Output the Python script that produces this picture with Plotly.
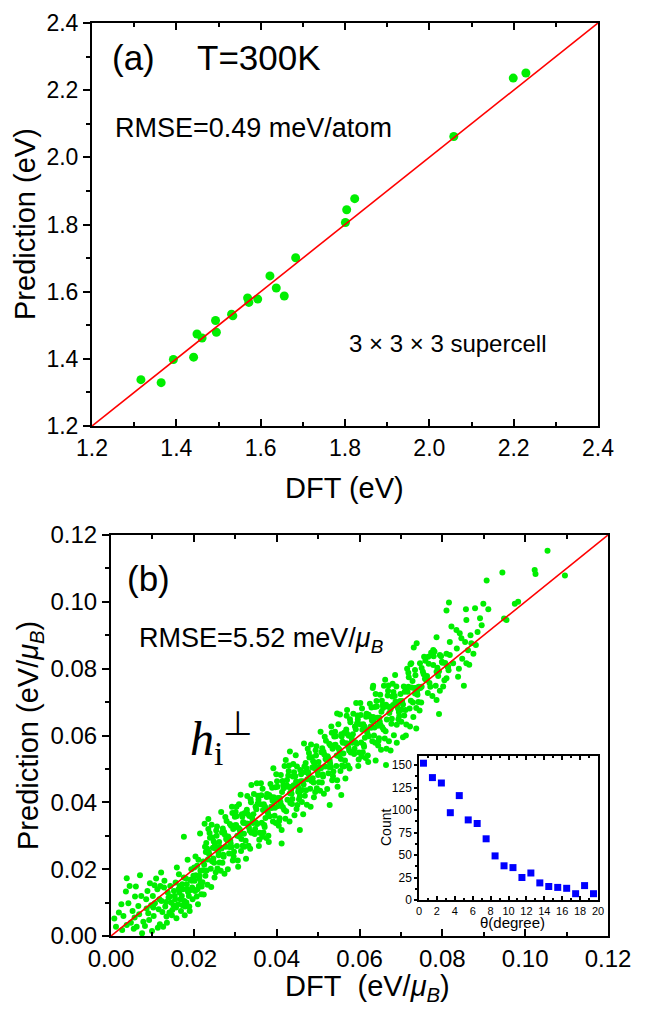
import plotly.graph_objects as go

# ── Data ──
# (a) T=300K, 3x3x3 supercell
a_dft = [1.316, 1.364, 1.393, 1.441, 1.449, 1.461, 1.493, 1.495, 1.531, 1.534,
         1.569, 1.572, 1.593, 1.622, 1.637, 1.656, 1.683, 1.801, 1.804, 1.823,
         2.058, 2.199, 2.229]
a_pred = [1.338, 1.329, 1.398, 1.405, 1.474, 1.462, 1.514, 1.479, 1.533, 1.528,
          1.581, 1.568, 1.578, 1.647, 1.611, 1.587, 1.701, 1.806, 1.844, 1.877,
          2.062, 2.236, 2.251]
a_range = [1.2, 2.4]

# (b) h_i^perp, (DFT, prediction) pairs in units of 1e-4 eV/muB
b_pairs = [
    (19, 70), (12, 28), (8, 52),
    (38, 173), (36, 133), (38, 33), (25, 95), (30, 60), (27, 18),
    (58, 118), (45, 150), (52, 75), (48, 40), (55, 22), (42, 98), (57, 55),
    (60, 148), (70, 182), (62, 28), (78, 43), (66, 90), (73, 120), (68, 65), (75, 8),
    (90, 68), (94, 158), (85, 110), (82, 30), (97, 92), (88, 135), (92, 48), (99, 15), (86, 82),
    (106, 98), (112, 140), (103, 60), (118, 35), (109, 172), (115, 80), (101, 120), (117, 110),
    (113, 25), (105, 152), (102, 85), (119, 150),
    (126, 28), (134, 58), (122, 105), (137, 130), (129, 165), (131, 88), (124, 72), (139, 115),
    (128, 145), (135, 40), (121, 190), (133, 102),
    (158, 53), (145, 100), (152, 135), (148, 78), (156, 160), (142, 118), (151, 92), (159, 205),
    (147, 62), (154, 120), (143, 150), (157, 85), (141, 70), (155, 110),
    (179, 88), (165, 130), (172, 155), (168, 110), (176, 175), (162, 95), (174, 140), (178, 62),
    (164, 185), (171, 120), (169, 75), (177, 105), (166, 150), (176, 297), (163, 140), (173, 92),
    (185, 228), (192, 168), (188, 120), (196, 145), (182, 100), (199, 180), (190, 75), (186, 132),
    (194, 200), (183, 155), (197, 110), (189, 88), (193, 138), (181, 172), (184, 140), (195, 165),
    (215, 307), (205, 182), (212, 150), (208, 210), (218, 125), (202, 165), (216, 195), (210, 95),
    (204, 238), (213, 172), (219, 148), (207, 118), (211, 228), (217, 160), (203, 135), (201, 205),
    (209, 140), (214, 180),
    (223, 223), (231, 196), (227, 267), (236, 251), (221, 161), (238, 308), (229, 251), (233, 153),
    (225, 213), (239, 294), (222, 197), (235, 320), (228, 180), (232, 262), (237, 245), (224, 124),
    (230, 278), (234, 229), (226, 336), (235, 350),
    (252, 262), (244, 224), (257, 202), (248, 283), (254, 316), (241, 201), (259, 251), (246, 264),
    (250, 175), (243, 333), (255, 300), (249, 219), (258, 263), (242, 147), (251, 276), (247, 232),
    (256, 328), (245, 295), (253, 191),
    (267, 262), (275, 303), (262, 220), (270, 322), (278, 290), (265, 195), (273, 311), (260, 242),
    (276, 356), (269, 219), (263, 266), (279, 344), (271, 243), (266, 371), (274, 186), (261, 281),
    (277, 267), (268, 310), (272, 237),
    (283, 298), (291, 266), (287, 335), (296, 238), (281, 286), (298, 331), (289, 277), (293, 368),
    (285, 247), (299, 357), (282, 200), (295, 320), (288, 285), (292, 387), (297, 252), (284, 294),
    (290, 330), (294, 226), (286, 266),
    (312, 312), (304, 269), (317, 357), (308, 323), (314, 254), (301, 371), (319, 341), (306, 226),
    (310, 298), (303, 358), (315, 290), (309, 394), (318, 270), (302, 332), (311, 319), (307, 207),
    (316, 364), (305, 300), (313, 423), (303, 387),
    (327, 337), (335, 315), (322, 267), (330, 365), (338, 400), (325, 285), (333, 325), (320, 338),
    (336, 261), (329, 419), (323, 368), (339, 309), (331, 336), (326, 231), (334, 359), (321, 306),
    (337, 409), (328, 378), (332, 270),
    (343, 338), (351, 379), (347, 305), (356, 408), (341, 353), (358, 288), (349, 387), (353, 335),
    (345, 425), (359, 309), (342, 345), (355, 420), (348, 320), (352, 457), (357, 269), (344, 364),
    (350, 340), (354, 396), (346, 311), (339, 452),
    (372, 387), (364, 339), (377, 425), (368, 310), (374, 379), (361, 394), (379, 367), (366, 441),
    (370, 332), (363, 421), (375, 293), (369, 394), (378, 375), (362, 457), (371, 326), (367, 377),
    (376, 416), (365, 297), (373, 353),
    (387, 387), (395, 360), (382, 422), (390, 405), (398, 338), (385, 455), (393, 415), (380, 300),
    (396, 384), (389, 444), (383, 358), (399, 484), (391, 343), (386, 416), (394, 402), (381, 281),
    (397, 445), (388, 383), (392, 502),
    (403, 413), (411, 391), (407, 352), (416, 451), (401, 463), (418, 378), (409, 401), (413, 431),
    (405, 330), (419, 509), (402, 447), (415, 385), (408, 413), (412, 317), (417, 442), (404, 389),
    (410, 482), (414, 464), (406, 344), (412, 277),
    (432, 427), (424, 452), (437, 395), (428, 480), (434, 446), (421, 351), (439, 477), (426, 408),
    (430, 510), (423, 373), (435, 438), (429, 494), (438, 410), (422, 527), (431, 343), (427, 447),
    (436, 426), (425, 467), (433, 398), (432, 552),
    (447, 462), (455, 430), (442, 490), (450, 392), (458, 463), (445, 478), (453, 441), (440, 515),
    (456, 418), (449, 507), (443, 361), (459, 484), (451, 448), (446, 541), (454, 409), (441, 451),
    (457, 497), (448, 380), (452, 432), (456, 317),
    (463, 463), (471, 436), (467, 507), (476, 491), (461, 401), (478, 548), (469, 491), (473, 393),
    (465, 453), (479, 534), (462, 437), (475, 560), (468, 420), (472, 502), (477, 485), (464, 364),
    (470, 518), (474, 469), (466, 576),
    (492, 502), (484, 464), (497, 442), (488, 523), (494, 556), (481, 441), (499, 491), (486, 504),
    (490, 415), (483, 573), (495, 540), (489, 459), (498, 503), (482, 387), (491, 516), (487, 472),
    (496, 568), (485, 535), (493, 431),
    (507, 502), (515, 543), (502, 460), (510, 562), (518, 530), (505, 435), (513, 551), (500, 482),
    (516, 596), (509, 459), (503, 506), (519, 584), (511, 483), (506, 611), (514, 426), (501, 521),
    (517, 507), (508, 550), (512, 477),
    (523, 538), (531, 506), (527, 575), (536, 478), (521, 526), (538, 571), (529, 517), (533, 608),
    (525, 487), (539, 597), (522, 440), (535, 560), (528, 525), (532, 627), (537, 492), (524, 534),
    (530, 570), (534, 466), (526, 506), (528, 392), (556, 422), (546, 666), (570, 676),
    (552, 552), (544, 509), (557, 597), (548, 563), (554, 494), (541, 611), (559, 581), (546, 466),
    (550, 538), (543, 598), (555, 530), (549, 634), (558, 510), (542, 572), (551, 559), (547, 447),
    (556, 604), (545, 540), (553, 663),
    (567, 577), (575, 555), (562, 507), (570, 605), (578, 640), (565, 525), (573, 565), (560, 578),
    (576, 501), (569, 659), (563, 608), (579, 549), (571, 576), (566, 471), (574, 599), (561, 546),
    (577, 649), (568, 618), (572, 510),
    (583, 578), (591, 619), (587, 545), (596, 648), (581, 593), (598, 528), (589, 627), (593, 575),
    (585, 665), (599, 549), (582, 585), (595, 660), (588, 560), (592, 697), (597, 509), (584, 604),
    (590, 580), (594, 636), (586, 551),
    (612, 627), (604, 579), (617, 665), (608, 550), (614, 619), (601, 634), (619, 607), (606, 681),
    (610, 572), (603, 661), (615, 533), (609, 634), (618, 615), (602, 697), (611, 566), (607, 617),
    (616, 656), (605, 537), (613, 593),
    (627, 627), (635, 600), (622, 662), (630, 645), (638, 578), (625, 695), (633, 655), (620, 540),
    (636, 624), (629, 684), (623, 598), (639, 724), (631, 583), (626, 656), (634, 642), (621, 521),
    (637, 685), (628, 623), (632, 742), (633, 749), (664, 512), (639, 525),
    (643, 653), (651, 631), (647, 592), (656, 691), (641, 703), (658, 618), (649, 641), (653, 671),
    (645, 570), (659, 749), (642, 687), (655, 625), (648, 653), (652, 557), (657, 682), (644, 629),
    (650, 722), (654, 704), (646, 584),
    (672, 667), (664, 692), (677, 635), (668, 720), (674, 686), (661, 591), (679, 717), (666, 648),
    (670, 750), (663, 613), (675, 678), (669, 734), (678, 650), (662, 767), (671, 583), (667, 687),
    (665, 560), (675, 555), (690, 578), (705, 595), (712, 600), (737, 621),
    (687, 702), (695, 670), (682, 730), (690, 632), (698, 703), (685, 718), (693, 681), (680, 755),
    (696, 658), (689, 747), (683, 601), (699, 724), (691, 688), (686, 781), (694, 649), (681, 691),
    (703, 703), (711, 676), (707, 747), (716, 731), (701, 641), (718, 788), (709, 731), (713, 633),
    (705, 693), (719, 774), (702, 677), (715, 800), (708, 660), (712, 742),
    (732, 742), (724, 704), (737, 682), (728, 763), (734, 796), (721, 681), (739, 731), (726, 744),
    (730, 655), (723, 813), (735, 780), (729, 699), (738, 743), (722, 627), (731, 863), (738, 876),
    (746, 816), (725, 816), (734, 726), (718, 746), (750, 746),
    (747, 742), (755, 783), (742, 700), (750, 802), (758, 770), (745, 675), (753, 791), (740, 722),
    (756, 836), (749, 699), (743, 746), (759, 824), (762, 771), (766, 836),
    (763, 778), (771, 746), (767, 815), (776, 718), (761, 766), (778, 811), (769, 757), (773, 848),
    (765, 727), (779, 837), (778, 856), (786, 894), (786, 791), (794, 841),
    (792, 792), (784, 749), (797, 837), (788, 803), (794, 734), (781, 851), (799, 821), (786, 706),
    (790, 778), (792, 664),
    (807, 817), (815, 795), (802, 747), (810, 845), (818, 880), (805, 765), (813, 805), (800, 818),
    (810, 771), (810, 974), (816, 998), (818, 841), (814, 806), (822, 926),
    (826, 816), (834, 916), (842, 906), (846, 891), (838, 776), (852, 749), (858, 816), (857, 978),
    (858, 946), (870, 876), (881, 871), (879, 981), (891, 951), (899, 994), (911, 978), (907, 1064),
    (945, 1088), (949, 950), (955, 946), (975, 994), (983, 1000), (1023, 1095), (1025, 1083),
    (1054, 1153), (1096, 1079), (835, 860), (848, 830), (862, 855), (868, 900), (855, 880),
    (875, 845), (840, 800), (865, 812), (885, 910), (895, 930),
]
b_dft = [p[0] / 1e4 for p in b_pairs]
b_pred = [p[1] / 1e4 for p in b_pairs]
b_range = [0.0, 0.12]

# inset: angle histogram
theta = [0.5, 1.5, 2.5, 3.5, 4.5, 5.5, 6.5, 7.5, 8.5, 9.5,
         10.5, 11.5, 12.5, 13.5, 14.5, 15.5, 16.5, 17.5, 18.5, 19.5]
counts = [152, 136, 130, 97, 116, 89, 85, 68, 49, 38,
          36, 25, 30, 19, 15, 14, 13, 7, 16, 7]

# ── Layout helpers ──
# the page body keeps its default 8px margin, so the figure is 8px smaller
# and every position below is given in screenshot pixels
OFF = 8
W, H = 655 - OFF, 1009 - OFF
FONT = 'Liberation Sans, Arial, sans-serif'
SERIF = 'Liberation Serif, Times New Roman, serif'
GREEN = '#00ee00'


def px(x):
    return (x - OFF) / W


def py(y):
    return 1 - (y - OFF) / H


def box_axes(dom, rng, dtick, minor, fmt, size, ticklen=7, lw=2, side_out=True):
    """left/bottom axis style"""
    return dict(domain=dom, range=rng, dtick=dtick, tick0=rng[0], tickformat=fmt,
                automargin=False,
                showgrid=False, zeroline=False, showline=True, linecolor='black',
                linewidth=lw, mirror=True,
                ticks='outside' if side_out else 'inside', ticklen=ticklen,
                tickwidth=1.5, tickcolor='black',
                minor=dict(dtick=minor, ticks='outside' if side_out else 'inside',
                           ticklen=max(ticklen - 3, 2), tickwidth=1.5, tickcolor='black',
                           showgrid=False),
                tickfont=dict(family=FONT, size=size, color='black'))


def right_axes(over, anchor, rng, dtick, minor, ticklen=7):
    return dict(overlaying=over, anchor=anchor, side='right', range=rng, dtick=dtick,
                tick0=rng[0], showticklabels=False, showgrid=False, zeroline=False,
                automargin=False,
                showline=False, ticks='inside', ticklen=ticklen, tickwidth=1.5,
                tickcolor='black',
                minor=dict(dtick=minor, ticks='inside', ticklen=max(ticklen - 3, 2),
                           tickwidth=1.5, tickcolor='black', showgrid=False))


fig = go.Figure()

# Panel (a)
fig.add_trace(go.Scatter(x=a_dft, y=a_pred, mode='markers',
                         marker=dict(color=GREEN, size=9), xaxis='x', yaxis='y'))
fig.add_trace(go.Scatter(x=a_range, y=a_range, mode='lines',
                         line=dict(color='red', width=1.6), xaxis='x', yaxis='y'))

# Panel (b)
fig.add_trace(go.Scatter(x=b_dft, y=b_pred, mode='markers',
                         marker=dict(color=GREEN, size=6), xaxis='x2', yaxis='y3'))
fig.add_trace(go.Scatter(x=b_range, y=b_range, mode='lines',
                         line=dict(color='red', width=1.6), xaxis='x2', yaxis='y3'))

# Inset
fig.add_trace(go.Scatter(x=theta, y=counts, mode='markers',
                         marker=dict(color='blue', size=7, symbol='square'),
                         xaxis='x3', yaxis='y5'))

xa = box_axes([px(92), px(598)], a_range, 0.2, 0.1, '.1f', 23, side_out=False)
xa.update(anchor='y', mirror='ticks')
ya = box_axes([py(426), py(23)], a_range, 0.2, 0.1, '.1f', 23)
ya.update(anchor='x')

xb = box_axes([px(111), px(608)], b_range, 0.02, 0.01, '.2f', 24, side_out=False)
xb.update(anchor='y3', mirror='ticks')
yb = box_axes([py(936), py(535)], b_range, 0.02, 0.01, '.2f', 24)
yb.update(anchor='x2')

xi = box_axes([px(419), px(598)], [0, 20], 2, 1, 'd', 11, ticklen=4, lw=1.5, side_out=False)
xi.update(anchor='y5', mirror='ticks')
yi = box_axes([py(900), py(756)], [0, 160], 25, 12.5, 'd', 12, ticklen=3, lw=1.5)
yi.update(anchor='x3', tick0=0)

fig.update_layout(
    template='none',
    width=W, height=H,
    margin=dict(l=0, r=0, t=0, b=0, autoexpand=False),
    paper_bgcolor='white', plot_bgcolor='white',
    showlegend=False,
    xaxis=xa, yaxis=ya, yaxis2=right_axes('y', 'x', a_range, 0.2, 0.1),
    xaxis2=xb, yaxis3=yb, yaxis4=right_axes('y3', 'x2', b_range, 0.02, 0.01),
    xaxis3=xi, yaxis5=yi, yaxis6=right_axes('y5', 'x3', [0, 160], 25, 12.5, ticklen=4),
)

# ── Text ──
notes = [
    # text, x, y, size, angle, family, xanchor
    ('(a)', 110, 57, 35, 0, FONT, 'left'),
    ('T=300K', 195, 57, 35, 0, FONT, 'left'),
    ('RMSE=0.49 meV/atom', 113, 128, 27, 0, FONT, 'left'),
    ('3 × 3 × 3 supercell', 347, 343, 24, 0, FONT, 'left'),
    ('Prediction (eV)', 25, 224, 29, -90, FONT, 'center'),
    ('DFT (eV)', 345, 488, 29, 0, FONT, 'center'),
    ('(b)', 125, 578, 35, 0, FONT, 'left'),
    ('RMSE=5.52 meV/<i>μ</i><sub><i>B</i></sub>', 137, 640, 27, 0, FONT, 'left'),
    ('<i>h</i><sub>i</sub><sup>⊥</sup>', 188, 738, 48, 0, SERIF, 'left'),
    ('Prediction (eV/<i>μ</i><sub><i>B</i></sub>)', 30, 736, 29, -90, FONT, 'center'),
    ('DFT\u00a0\u00a0(eV/<i>μ</i><sub><i>B</i></sub>)', 367, 988, 29, 0, FONT, 'center'),
    ('Count', 386, 828, 14, -90, FONT, 'center'),
    ('θ(degree)', 512, 922, 15, 0, FONT, 'center'),
]
for text, x, y, size, angle, fam, xanc in notes:
    fig.add_annotation(text=text, x=px(x), y=py(y), xref='paper', yref='paper',
                       xanchor=xanc, yanchor='middle', showarrow=False, textangle=angle,
                       font=dict(family=fam, size=size, color='black'))

fig.write_html('out.html')
